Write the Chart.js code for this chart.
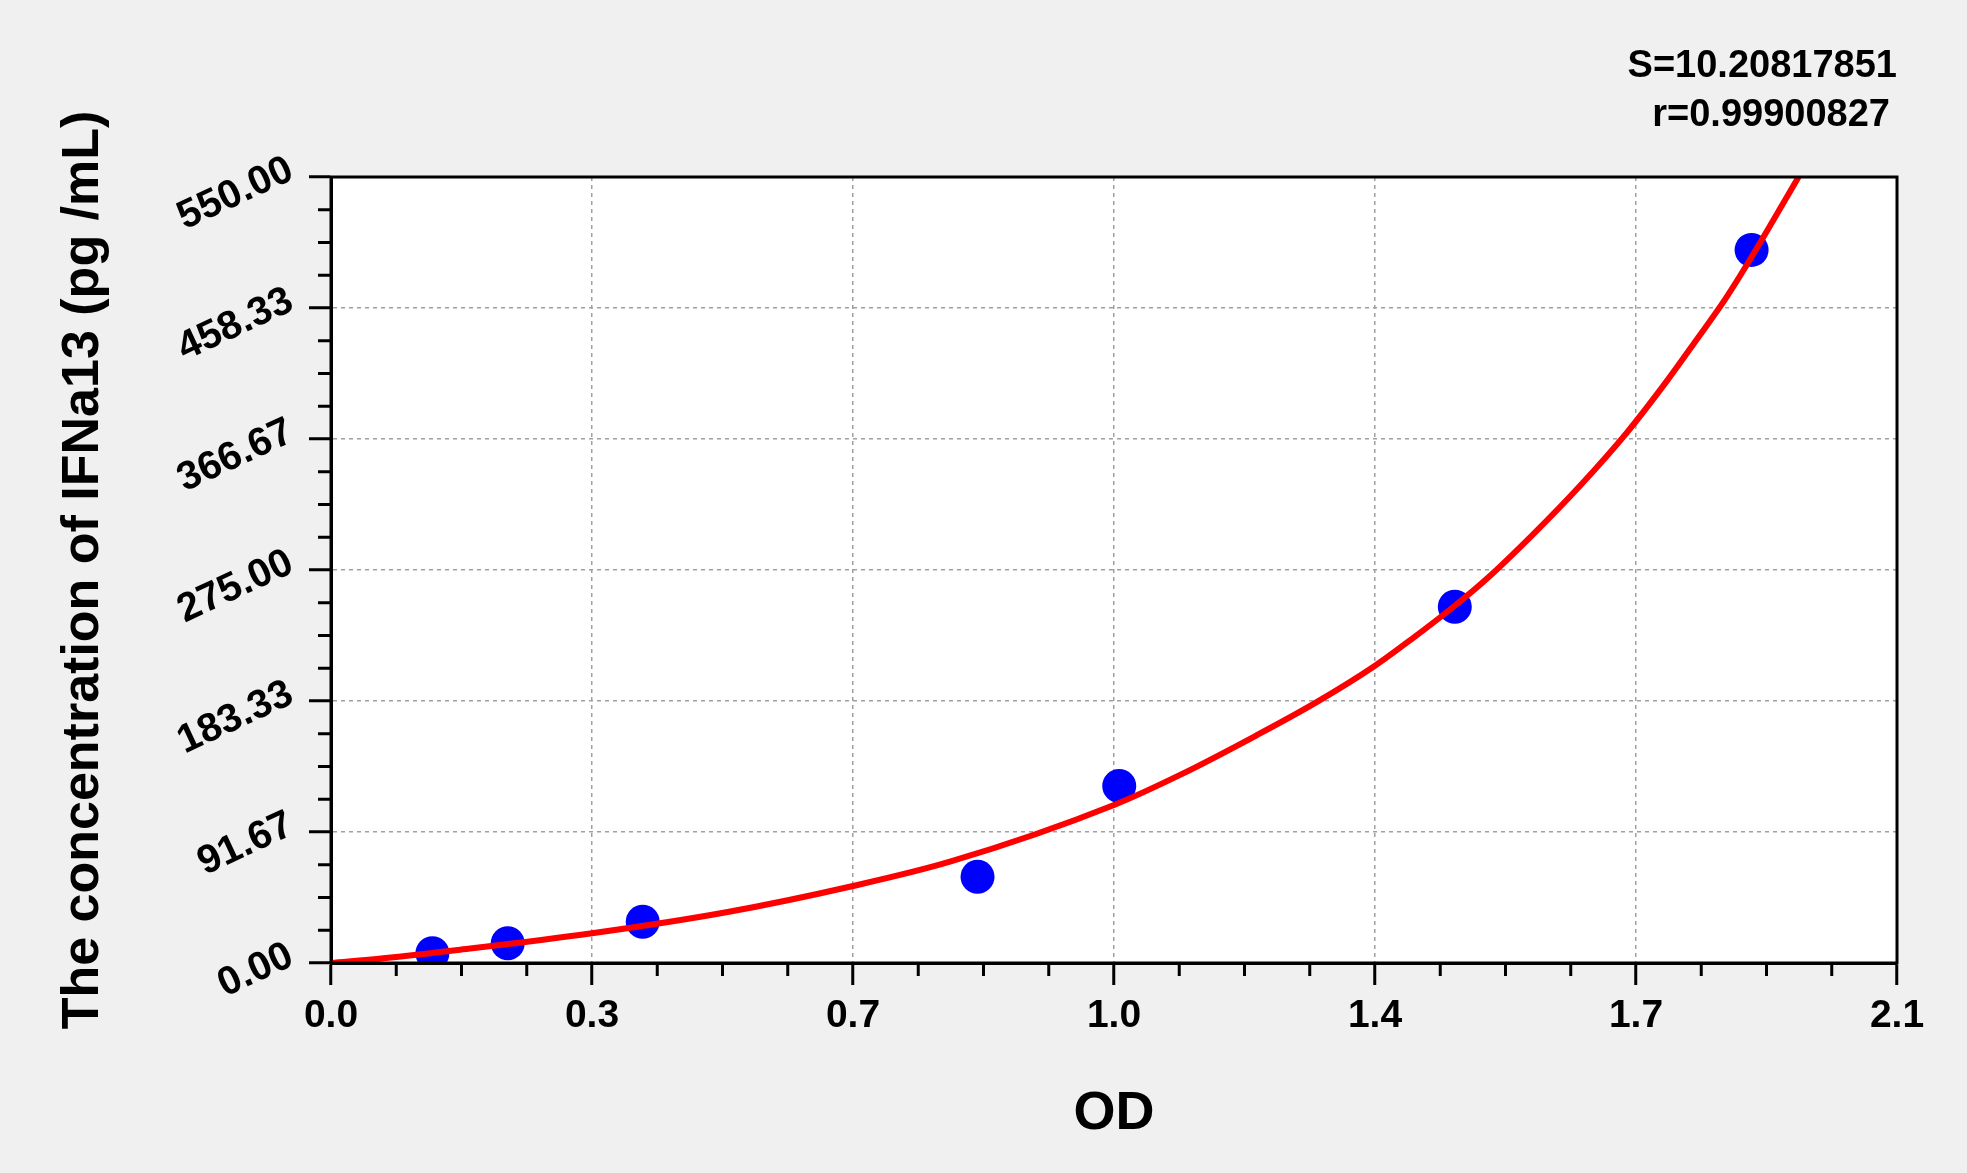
<!DOCTYPE html>
<html>
<head>
<meta charset="utf-8">
<title>IFNa13 standard curve</title>
<script src="https://cdn.jsdelivr.net/npm/chart.js@4.4.0/dist/chart.umd.min.js"></script>
<style>
    html, body { margin: 0; padding: 0; background: #f0f0f0; }
    #wrap { width: 1967px; height: 1173px; }
</style>
</head>
<body>
<div id="wrap"><canvas id="myChart"></canvas></div>
<script>
// standards (OD -> concentration)
var odValues = [0.136, 0.237, 0.418, 0.867, 1.057, 1.507, 1.905];
var concValues = [6.8, 13.8, 28.9, 60.4, 123.9, 249.3, 499];

// fitted curve
var curveOD = [0, 0.07, 0.17, 0.35, 0.53, 0.70, 0.83, 1.05, 1.14, 1.24, 1.32, 1.40, 1.45, 1.507, 1.548, 1.612, 1.675, 1.7375, 1.791, 1.831, 1.869, 1.905, 1.968];
var curveConc = [0, 3.3, 9.1, 20.8, 35.5, 53.9, 70.9, 110.6, 132, 159, 182, 208, 227, 250, 268, 300, 334, 371, 407, 436, 464, 494, 550];

var xTicks = [0, 0.35, 0.7, 1.05, 1.4, 1.75, 2.1];
var xTickLabels = ['0.0', '0.3', '0.7', '1.0', '1.4', '1.7', '2.1'];
var yTicks = [0, 91.667, 183.333, 275, 366.667, 458.333, 550];
var yTickLabels = ['0.00', '91.67', '183.33', '275.00', '366.67', '458.33', '550.00'];

var fitStats = ['S=10.20817851', 'r=0.99900827'];

var fontFamily = '"Liberation Sans", Arial, sans-serif';
Chart.defaults.font.family = fontFamily;
Chart.defaults.color = '#000';

function toPoints(xs, ys) {
    return xs.map(function (x, i) { return { x: x, y: ys[i] }; });
}

// grey page, white plot area, black frame
var frame = {
    id: 'frame',
    beforeDraw: function (chart) {
        var ctx = chart.ctx, a = chart.chartArea;
        ctx.save();
        ctx.fillStyle = '#f0f0f0';
        ctx.fillRect(0, 0, chart.width, chart.height);
        ctx.fillStyle = '#ffffff';
        ctx.fillRect(a.left, a.top, a.right - a.left, a.bottom - a.top);
        ctx.restore();
    },
    afterDraw: function (chart) {
        var ctx = chart.ctx, a = chart.chartArea;
        ctx.save();
        ctx.strokeStyle = '#000';
        ctx.lineWidth = 3;
        ctx.strokeRect(a.left, a.top, a.right - a.left, a.bottom - a.top);
        ctx.restore();
    }
};

// 3 minor ticks between every pair of labelled ticks
var minorTicks = {
    id: 'minorTicks',
    afterDraw: function (chart) {
        var ctx = chart.ctx, a = chart.chartArea;
        var xs = chart.scales.x, ys = chart.scales.y;
        ctx.save();
        ctx.strokeStyle = '#000';
        ctx.lineWidth = 3;
        ctx.beginPath();
        for (var i = 0; i < xTicks.length - 1; i++) {
            for (var k = 1; k < 4; k++) {
                var px = xs.getPixelForValue(xTicks[i] + (xTicks[i + 1] - xTicks[i]) * k / 4);
                ctx.moveTo(px, a.bottom);
                ctx.lineTo(px, a.bottom + 13);
            }
        }
        for (var j = 0; j < yTicks.length - 1; j++) {
            for (var m = 1; m < 4; m++) {
                var py = ys.getPixelForValue(yTicks[j] + (yTicks[j + 1] - yTicks[j]) * m / 4);
                ctx.moveTo(a.left, py);
                ctx.lineTo(a.left - 13, py);
            }
        }
        ctx.stroke();
        ctx.restore();
    }
};

var stats = {
    id: 'stats',
    afterDraw: function (chart) {
        var ctx = chart.ctx, a = chart.chartArea;
        ctx.save();
        ctx.fillStyle = '#000';
        ctx.font = 'bold 38px ' + fontFamily;
        ctx.textAlign = 'right';
        ctx.textBaseline = 'alphabetic';
        ctx.fillText(fitStats[0], a.right, 77);
        ctx.fillText(fitStats[1], a.right - 7, 126);
        ctx.restore();
    }
};

var ctx = document.getElementById('myChart').getContext('2d');
var myChart = new Chart(ctx, {
    type: 'scatter',
    data: {
        datasets: [{
            type: 'line',
            label: 'fit',
            data: toPoints(curveOD, curveConc),
            borderColor: '#ff0000',
            borderWidth: 6,
            pointRadius: 0,
            fill: false,
            cubicInterpolationMode: 'monotone'
        }, {
            label: 'standards',
            data: toPoints(odValues, concValues),
            backgroundColor: '#0000ff',
            borderWidth: 0,
            pointRadius: 17
        }]
    },
    options: {
        responsive: true,
        maintainAspectRatio: false,
        animation: false,
        devicePixelRatio: 1,
        layout: {
            padding: { top: 177, right: 70, left: 0, bottom: 0 }
        },
        plugins: {
            legend: { display: false },
            tooltip: { enabled: false }
        },
        scales: {
            x: {
                type: 'linear',
                min: 0,
                max: 2.1,
                afterBuildTicks: function (scale) {
                    scale.ticks = xTicks.map(function (v) { return { value: v }; });
                },
                afterFit: function (scale) { scale.height = 210; },
                ticks: {
                    font: { size: 39, weight: 'bold' },
                    padding: 8,
                    maxRotation: 0,
                    callback: function (value, index) { return xTickLabels[index]; }
                },
                grid: {
                    color: '#a0a0a0',
                    lineWidth: 1.5,
                    tickLength: 22,
                    tickColor: '#000',
                    tickWidth: 3
                },
                border: { color: '#000', width: 3, dash: [4, 4] },
                title: {
                    display: true,
                    text: 'OD',
                    font: { size: 54, weight: 'bold' },
                    padding: { top: 0, bottom: 26 }
                }
            },
            y: {
                type: 'linear',
                min: 0,
                max: 550,
                afterBuildTicks: function (scale) {
                    scale.ticks = yTicks.map(function (v) { return { value: v }; });
                },
                afterFit: function (scale) { scale.width = 331; },
                ticks: {
                    font: { size: 40, weight: 'bold' },
                    padding: 18,
                    labelOffset: -9,
                    minRotation: 25,
                    maxRotation: 25,
                    callback: function (value, index) { return yTickLabels[index]; }
                },
                grid: {
                    color: '#a0a0a0',
                    lineWidth: 1.5,
                    tickLength: 22,
                    tickColor: '#000',
                    tickWidth: 3
                },
                border: { color: '#000', width: 3, dash: [4, 4] },
                title: {
                    display: true,
                    text: 'The concentration of IFNa13 (pg /mL)',
                    font: { size: 52, weight: 'bold' },
                    padding: { top: 52, bottom: 0 }
                }
            }
        }
    },
    plugins: [frame, minorTicks, stats]
});
</script>
</body>
</html>
